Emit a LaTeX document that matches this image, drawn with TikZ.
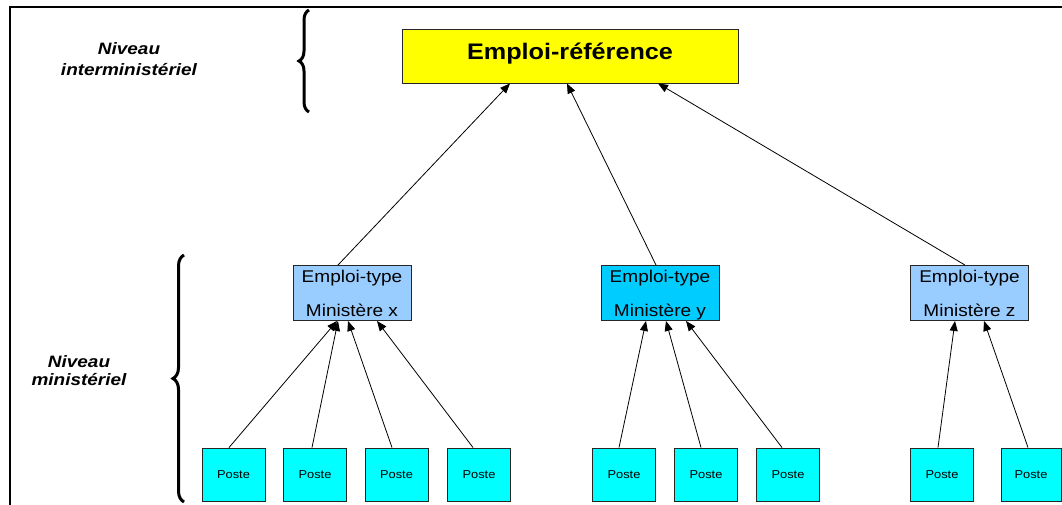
\documentclass[tikz,border=0pt]{standalone}
\usepackage{fontspec}
\setmainfont{Liberation Sans}
\usepackage{graphicx}
\usetikzlibrary{arrows.meta,decorations.pathreplacing,calc}
% slightly widened lettering
\newcommand\hs[2][1.12]{\scalebox{#1}[1]{#2}}
\definecolor{refyellow}{HTML}{FFFF00}
\definecolor{typeblue}{HTML}{99CCFF}
\definecolor{typesky}{HTML}{00CCFF}
\definecolor{postecyan}{HTML}{00FFFF}
\begin{document}
\begin{tikzpicture}[x=1pt,y=-1pt,
  box/.style={draw=black!85, line width=0.9pt, inner sep=2pt},
  refbox/.style={box, fill=refyellow, minimum width=336pt, minimum height=54pt,
    font=\bfseries\fontsize{22.5}{26}\selectfont, text height=15.8pt, text depth=9pt},
  typebox/.style={box, minimum width=118pt, minimum height=55pt, align=center,
    font=\fontsize{17}{20}\selectfont, text depth=0pt},
  postebox/.style={box, fill=postecyan, minimum width=63pt, minimum height=53pt,
    font=\fontsize{11.5}{14}\selectfont},
  level/.style={align=center, font=\bfseries\itshape\fontsize{16.5}{20}\selectfont},
  link/.style={line width=0.8pt, -{Triangle[length=10pt,width=8pt]}},
  curly/.style={line width=3pt, decorate, decoration={brace, amplitude=#1}},
  frame/.style={line width=1.5pt}]
\useasboundingbox (0,0) rectangle (1062,505);

% outer frame (top and left edges)
\draw[frame] (10,505) -- (10,7) -- (1062,7);

% level labels and braces
\node[level] (lvtop) at (129,59.5) {\hs[1.15]{Niveau}\\[1pt]\hs[1.15]{interministériel}};
\node[level] (lvmin) at (79,370.6) {\hs[1.15]{Niveau}\\[-2.7pt]\hs[1.15]{ministériel}};
\draw[curly=10pt] (309,112) -- (309,10);
\draw[curly=11pt] (184,502) -- (184,255);

% reference job
\node[refbox] (ref) at (570,56) {\hs{Emploi-référence}\hspace{14pt}};

% ministerial job types
\node[typebox, fill=typeblue] (ex) at (352,293) {\hs{Emploi-type}\\[14pt]\hs{Ministère x}};
\node[typebox, fill=typesky]  (ey) at (660,293) {\hs{Emploi-type}\\[14pt]\hs{Ministère y}};
\node[typebox, fill=typeblue] (ez) at (969.5,293) {\hs{Emploi-type}\\[14pt]\hs{Ministère z}};

% posts
\node[postebox] (p1) at (233.5,474.5) {\hs{Poste}};
\node[postebox] (p2) at (315,474.5) {\hs{Poste}};
\node[postebox] (p3) at (396.5,474.5) {\hs{Poste}};
\node[postebox] (p4) at (479,474.5) {\hs{Poste}};
\node[postebox] (p5) at (624,474.5) {\hs{Poste}};
\node[postebox] (p6) at (706,474.5) {\hs{Poste}};
\node[postebox] (p7) at (788,474.5) {\hs{Poste}};
\node[postebox] (p8) at (942,474.5) {\hs{Poste}};
\node[postebox, minimum width=60pt] (p9) at (1031,474.5) {\hs{Poste}};

% job types up to the reference job
\draw[link] ([xshift=-14pt]ex.north) -- ([xshift=-60pt]ref.south);
\draw[link] ([xshift=-4pt]ey.north) -- ([xshift=-3pt]ref.south);
\draw[link] ([xshift=-4.5pt]ez.north) -- ([xshift=88pt]ref.south);

% posts up to their job type
\draw[link] ([xshift=-4.5pt]p1.north) -- ([xshift=-15pt]ex.south);
\draw[link] ([xshift=-3pt]p2.north) -- ([xshift=-14pt]ex.south);
\draw[link] ([xshift=-4.5pt]p3.north) -- ([xshift=-4pt]ex.south);
\draw[link] ([xshift=-6pt]p4.north) -- ([xshift=25pt]ex.south);
\draw[link] ([xshift=-5pt]p5.north) -- ([xshift=-14pt]ey.south);
\draw[link] ([xshift=-5pt]p6.north) -- ([xshift=6pt]ey.south);
\draw[link] ([xshift=-6pt]p7.north) -- ([xshift=26pt]ey.south);
\draw[link] ([xshift=-4pt]p8.north) -- ([xshift=-14.5pt]ez.south);
\draw[link] ([xshift=-3pt]p9.north) -- ([xshift=14.5pt]ez.south);
\end{tikzpicture}
\end{document}
